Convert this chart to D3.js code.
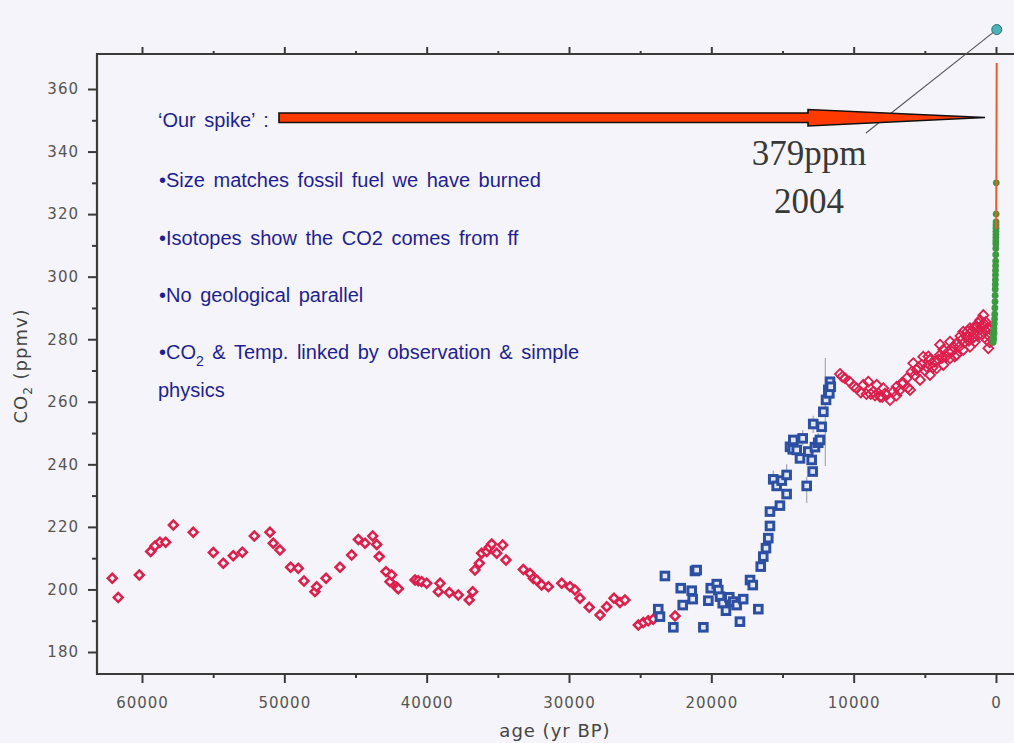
<!DOCTYPE html>
<html>
<head>
<meta charset="utf-8">
<script src="https://cdn.jsdelivr.net/npm/d3@7"></script>
<style>
  html, body { margin: 0; padding: 0; background: #f4f4fa; }
  svg { display: block; }
</style>
</head>
<body>
<svg id="chart" width="1014" height="743"></svg>
<script>
// ---------- data ----------
const ageTicks = [60000, 50000, 40000, 30000, 20000, 10000, 0];
const ageMinorTicks = [55000, 45000, 35000, 25000, 15000, 5000];
const co2Ticks = [180, 200, 220, 240, 260, 280, 300, 320, 340, 360];
const co2MinorTicks = [190, 210, 230, 250, 270, 290, 310, 330, 350];

// glacial record, [age yr BP, CO2 ppmv]
const glacialCO2 = [
  [62090,203.6],[61670,197.4],[60190,204.6],[59390,212.1],[59090,213.9],[58740,215.1],
  [58340,215.1],[57800,220.6],[56400,218.3],[54990,211.8],[54290,208.4],[53590,210.8],
  [52950,211.9],[52110,217.1],[51010,218.3],[50780,214.8],[50310,212.6],[49560,207.1],
  [49020,206.8],[48620,202.7],[47850,199.3],[47730,200.9],[47070,203.6],[46090,207.1],
  [45270,211.0],[44800,216.0],[44330,214.8],[43790,217.1],[43510,214.4],[43330,210.5],
  [42860,205.7],[42580,202.5],[42460,204.6],[42110,200.7],[41990,200.2],[40820,203.0],
  [40600,202.8],[40350,202.5],[40000,202.0],[39180,199.3],[39060,202.0],[38410,199.0],
  [37780,198.2],[37010,196.6],[36770,199.3],[36610,206.2],[36300,208.4],[36140,211.6],
  [35780,212.1],[35600,213.5],[35430,214.5],[35080,211.6],[34660,214.2],[34430,209.4],
  [33210,206.4],[32740,205.1],[32500,203.5],[32270,203.0],[31920,201.4],[31450,200.9],
  [30510,202.0],[29930,200.9],[29580,199.8],[29230,197.2],[28580,194.3],[27820,191.8],
  [27350,194.5],[26840,197.2],[26420,195.8],[26070,196.6],[25130,188.6],[24780,189.4],
  [24430,190.0],[24080,190.5],[22550,191.5]
];

// deglaciation record, [age yr BP, CO2 ppmv]
const deglacialCO2 = [
  [23730,193.7],[23610,191.3],[23260,204.3],[22670,187.9],[22150,200.4],[22010,195.0],
  [21380,199.6],[21310,196.9],[21150,205.9],[21030,206.2],[20560,187.9],[20210,196.4],
  [20040,200.4],[19620,201.7],[19510,199.8],[19390,197.7],[19200,195.6],[18970,193.2],
  [18740,197.5],[18460,196.1],[18220,195.0],[17990,189.7],[17760,196.9],[17280,203.0],
  [17090,201.4],[16700,193.7],[16530,207.3],[16350,210.5],[16160,213.2],[16000,216.4],
  [15880,220.3],[15880,224.9],[15650,235.2],[15410,233.1],[15180,226.8],[15060,234.8],
  [14710,236.6],[14710,230.5],[14470,245.6],[14280,244.8],[14240,247.8],[14000,244.6],
  [13770,241.9],[13580,248.3],[13300,233.1],[13190,244.1],[12950,241.4],[12880,237.7],
  [12840,252.9],[12720,245.5],[12490,246.9],[12370,247.8],[12250,252.0],[12130,256.8],
  [11940,260.6],[11780,263.8],[11710,262.7],[11660,266.4],[11610,264.8]
];

// uncertainty ranges on a few deglaciation samples, [age, low, high]
const deglacialErrors = [
  [11990,239.5,274.0],[13300,227.6,236.0],[13580,246.0,251.0],[12840,250.0,255.5],
  [14710,233.0,240.0],[15650,232.5,238.0],[12490,244.0,250.0]
];

// Holocene record, [age yr BP, CO2 ppmv]
const holoceneCO2 = [
  [10960,268.9],[10800,268.0],[10610,267.5],[10300,266.5],[10000,265.0],[9790,264.3],
  [9500,263.0],[9320,265.4],[9100,262.5],[8970,266.4],[8800,262.5],[8620,263.2],
  [8500,262.0],[8380,265.4],[8150,261.6],[8000,261.5],[7920,264.3],[7800,262.6],
  [7680,262.2],[7450,260.6],[7220,263.2],[7000,262.0],[6980,264.8],[6800,263.5],
  [6630,265.9],[6500,266.0],[6270,267.5],[6200,264.5],[6040,263.8],[5920,269.6],
  [5810,272.3],[5700,268.5],[5570,270.2],[5450,271.0],[5340,267.0],[5220,271.8],
  [5110,274.4],[5000,270.0],[4870,271.2],[4750,274.5],[4640,273.4],[4640,268.6],
  [4450,271.0],[4290,272.8],[4170,270.7],[4050,273.5],[3930,275.0],[3930,278.2],
  [3800,274.0],[3700,276.6],[3700,271.8],[3500,274.5],[3350,276.0],[3230,273.9],
  [3230,279.2],[3100,276.0],[3000,277.6],[2900,274.5],[2760,278.7],[2760,275.0],
  [2600,277.5],[2500,281.0],[2410,279.8],[2300,276.6],[2300,282.4],[2200,279.0],
  [2060,280.8],[2000,282.5],[1900,279.5],[1830,277.6],[1830,283.5],[1710,282.4],
  [1600,280.5],[1500,284.0],[1480,279.2],[1360,284.0],[1300,281.0],[1240,285.1],
  [1150,283.0],[1120,286.1],[1000,281.4],[950,284.5],[890,287.7],[850,285.0],
  [770,282.9],[720,285.5],[650,279.8],[600,283.5],[540,277.1],[500,281.0],
  [450,279.0],[400,283.0]
];

// recent ice core record, [age yr BP, CO2 ppmv]
const recentIceCO2 = [
  [200,279.0],[190,280.5],[180,281.5],[170,280.0],[160,282.5],[150,283.5],[140,282.0],
  [120,285.0],[100,286.5],[90,288.0],[80,290.0],[70,292.0],[60,294.0],[55,296.0],
  [50,297.5],[45,299.0],[40,300.5],[35,302.0],[30,303.5],[25,305.0],[20,307.0],
  [15,309.0],[12,310.5],[10,311.5],[8,312.5],[5,313.5],[3,314.5],[0,315.5],
  [-2,316.5],[-5,317.5],[-10,320.0],[-18,330.0]
];

// atmospheric measurements 1958-1999, [age yr BP, CO2 ppmv]
const atmosphericCO2 = [
  [-8,315.3],[-10,316.9],[-15,320.0],[-20,325.7],[-25,331.1],[-30,338.7],
  [-35,346.0],[-40,354.2],[-45,360.8],[-49,368.3]
];

// 2004 value
const latestCO2 = [[-54, 379]];

// ---------- layout ----------
const svg = d3.select("#chart");
const x = d3.scaleLinear().domain([60000, 0]).range([142, 996]);
const y = d3.scaleLinear().domain([180, 360]).range([652, 89]);

const frameLeft = 97, frameRight = 1016, frameTop = 54, frameBottom = 674;
const axisInk = "#3a3a3a";
const labelInk = "#555";

svg.append("rect").attr("width", 1014).attr("height", 743).attr("fill", "#f4f4fa");

function styleAxis(g, fontSize) {
  g.select(".domain").remove();
  g.selectAll(".tick line").attr("stroke", axisInk).attr("stroke-width", 2);
  g.selectAll(".tick text")
    .attr("fill", labelInk)
    .style("font-family", "'DejaVu Sans', sans-serif")
    .style("font-size", fontSize + "px")
    .style("letter-spacing", "1px");
}

// bottom axis
svg.append("g").attr("transform", `translate(0,${frameBottom})`)
  .call(d3.axisBottom(x).tickValues(ageTicks).tickSize(9).tickPadding(14).tickFormat(d => String(d)))
  .call(g => styleAxis(g, 15));
svg.append("g").attr("transform", `translate(0,${frameBottom})`)
  .call(d3.axisBottom(x).tickValues(ageMinorTicks).tickSize(4).tickFormat(""))
  .call(g => styleAxis(g, 15));

// top axis
svg.append("g").attr("transform", `translate(0,${frameTop})`)
  .call(d3.axisTop(x).tickValues(ageTicks).tickSize(7).tickFormat(""))
  .call(g => styleAxis(g, 15));
svg.append("g").attr("transform", `translate(0,${frameTop})`)
  .call(d3.axisTop(x).tickValues(ageMinorTicks).tickSize(3).tickFormat(""))
  .call(g => styleAxis(g, 15));

// left axis
svg.append("g").attr("transform", `translate(${frameLeft},0)`)
  .call(d3.axisLeft(y).tickValues(co2Ticks).tickSize(9).tickPadding(9).tickFormat(d => String(d)))
  .call(g => styleAxis(g, 15));
svg.append("g").attr("transform", `translate(${frameLeft},0)`)
  .call(d3.axisLeft(y).tickValues(co2MinorTicks).tickSize(5).tickFormat(""))
  .call(g => styleAxis(g, 15));

// frame
svg.append("path")
  .attr("d", `M${frameRight},${frameTop}H${frameLeft}V${frameBottom}H${frameRight}`)
  .attr("fill", "none").attr("stroke", axisInk).attr("stroke-width", 2.2);

// axis titles
svg.append("text")
  .attr("x", 555).attr("y", 737)
  .attr("text-anchor", "middle")
  .attr("fill", "#444")
  .style("font-family", "'DejaVu Sans', sans-serif")
  .style("font-size", "18px")
  .style("letter-spacing", "1px")
  .text("age (yr BP)");

const yTitle = svg.append("text")
  .attr("transform", "translate(27,366) rotate(-90)")
  .attr("text-anchor", "middle")
  .attr("fill", "#444")
  .style("font-family", "'DejaVu Sans', sans-serif")
  .style("font-size", "18px")
  .style("letter-spacing", "1px");
yTitle.append("tspan").text("CO");
yTitle.append("tspan").attr("dy", 5).style("font-size", "12px").text("2");
yTitle.append("tspan").attr("dy", -5).text(" (ppmv)");

// ---------- marks ----------
const red = "#dc1f4b";
const blue = "#2c4fa2";

// error bars
svg.append("g").selectAll("line").data(deglacialErrors).join("line")
  .attr("x1", d => x(d[0])).attr("x2", d => x(d[0]))
  .attr("y1", d => y(d[1])).attr("y2", d => y(d[2]))
  .attr("stroke", "#a8a8b4").attr("stroke-width", 1.2);

const diamond = d3.symbol().type(d3.symbolSquare).size(40)();
const bigDiamond = d3.symbol().type(d3.symbolSquare).size(50)();

svg.append("g").selectAll("path").data(glacialCO2).join("path")
  .attr("d", diamond)
  .attr("transform", d => `translate(${x(d[0])},${y(d[1])}) rotate(45)`)
  .attr("fill", "#f6eef2").attr("stroke", red).attr("stroke-width", 2.5);

svg.append("g").selectAll("rect").data(deglacialCO2).join("rect")
  .attr("x", d => x(d[0]) - 3.8).attr("y", d => y(d[1]) - 3.8)
  .attr("width", 7.6).attr("height", 7.6)
  .attr("fill", "#e2e7f5").attr("stroke", blue).attr("stroke-width", 3);

svg.append("g").selectAll("path").data(holoceneCO2).join("path")
  .attr("d", bigDiamond)
  .attr("transform", d => `translate(${x(d[0])},${y(d[1])}) rotate(45)`)
  .attr("fill", "none").attr("stroke", red).attr("stroke-width", 1.8);

svg.append("g").selectAll("circle").data(recentIceCO2).join("circle")
  .attr("cx", d => x(d[0])).attr("cy", d => y(d[1])).attr("r", 3.4)
  .attr("fill", "#3d9a40");

svg.append("path").datum(atmosphericCO2)
  .attr("d", d3.line().x(d => x(d[0])).y(d => y(d[1])))
  .attr("fill", "none").attr("stroke", "#f05a24").attr("stroke-width", 2);

// ---------- annotations ----------
const latest = latestCO2[0];
svg.append("line")
  .attr("x1", 866).attr("y1", 133)
  .attr("x2", x(latest[0])).attr("y2", y(latest[1]))
  .attr("stroke", "#555").attr("stroke-width", 1.1);
svg.append("circle")
  .attr("cx", x(latest[0])).attr("cy", y(latest[1])).attr("r", 5)
  .attr("fill", "#4bb2b6").attr("stroke", "#2e6e72").attr("stroke-width", 1);

svg.append("text").attr("x", 809).attr("y", 165).attr("text-anchor", "middle")
  .attr("fill", "#383838")
  .style("font-family", "'Liberation Serif', 'Times New Roman', serif")
  .style("font-size", "35px")
  .text(`${latest[1]}ppm`);
svg.append("text").attr("x", 809).attr("y", 213).attr("text-anchor", "middle")
  .attr("fill", "#383838")
  .style("font-family", "'Liberation Serif', 'Times New Roman', serif")
  .style("font-size", "35px")
  .text("2004");

// arrow pointing at the spike
const arrowTip = [985, 117.5];
svg.append("path")
  .attr("d", `M279,113 L808,113 L808,109.5 L${arrowTip[0]},${arrowTip[1]} L808,126 L808,122.5 L279,122.5 Z`)
  .attr("fill", "#ff3a00").attr("stroke", "#111").attr("stroke-width", 1.6)
  .attr("stroke-linejoin", "miter");

// bullet notes
const notes = svg.append("g")
  .attr("fill", "#1f1f92")
  .style("font-family", "'Liberation Sans', Arial, sans-serif")
  .style("font-size", "20px")
  .style("word-spacing", "3px");

notes.append("text").attr("x", 158).attr("y", 127).text("\u2018Our spike\u2019 :");
notes.append("text").attr("x", 159).attr("y", 187).text("\u2022Size matches fossil fuel we have burned");
notes.append("text").attr("x", 159).attr("y", 245).text("\u2022Isotopes show the CO2 comes from ff");
notes.append("text").attr("x", 159).attr("y", 302).text("\u2022No geological parallel");
const co2Note = notes.append("text").attr("x", 159).attr("y", 359);
co2Note.append("tspan").text("\u2022CO");
co2Note.append("tspan").attr("dy", 7).style("font-size", "14px").text("2");
co2Note.append("tspan").attr("dy", -7).text(" & Temp. linked by observation & simple");
notes.append("text").attr("x", 158).attr("y", 397).text("physics");
</script>
</body>
</html>
